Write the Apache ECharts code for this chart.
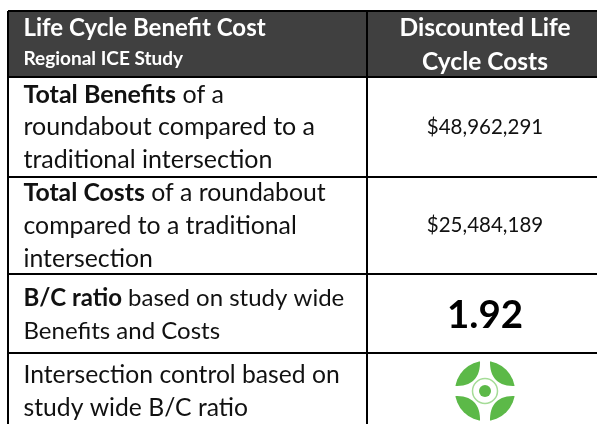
<!DOCTYPE html>
<html>
<head>
<meta charset="utf-8">
<title>Life Cycle Benefit Cost</title>
<script src="https://cdn.jsdelivr.net/npm/echarts@6/dist/echarts.min.js"></script>
<style>
  html, body { margin: 0; padding: 0; background: #fff; }
  #main { width: 597px; height: 424px; }
</style>
</head>
<body>
<div id="main"></div>
<script>
// table content
const headerLeft = ['Life Cycle Benefit Cost', 'Regional ICE Study'];
const headerRight = ['Discounted Life', 'Cycle Costs'];
const rowLabels = [
  ['{b|Total Benefits} of a', 'roundabout compared to a', 'traditional intersection'],
  ['{b|Total Costs} of a roundabout', 'compared to a traditional', 'intersection'],
  ['{b|B/C ratio} based on study wide', 'Benefits and Costs'],
  ['Intersection control based on', 'study wide B/C ratio']
];
const rowValues = ['$48,962,291', '$25,484,189', '1.92', null];

// layout
const fontName = 'Lato';
const tableLeft = 8, divider = 367, tableRight = 597, tableTop = 11, tableBottom = 424;
const rowLines = [77, 177, 274, 353];
const firstLineY = [94.5, 193.5, 298.5, 375.5];
const rowFontSize = [25, 24.8, 24, 24.7];
const lineHeight = 32.6;
const textX = 23.5, midRight = 485;

let chart = echarts.init(document.getElementById('main'), null, {renderer: 'canvas'});
let els = [];

function line(x1, y1, x2, y2) {
  els.push({type: 'line', shape: {x1, y1, x2, y2}, style: {stroke: '#000', lineWidth: 2}, z: 5});
}
function label(text, x, y, size, opts) {
  els.push({
    type: 'text', z: 10,
    style: Object.assign({
      text, x, y, fontFamily: fontName, fontSize: size, fill: '#111',
      verticalAlign: 'middle', align: 'left',
      rich: {b: {fontFamily: fontName, fontSize: size, fontWeight: 'bold', fill: '#111'}}
    }, opts)
  });
}

// header
els.push({type: 'rect', shape: {x: tableLeft, y: tableTop, width: tableRight - tableLeft, height: rowLines[0] - tableTop}, style: {fill: '#404040'}});
label(headerLeft[0], textX, 28.5, 24, {fontWeight: 'bold', fill: '#fff'});
label(headerLeft[1], textX, 59, 19, {fontWeight: 'bold', fill: '#fff'});
label(headerRight[0], midRight, 28.5, 24.5, {fontWeight: 'bold', fill: '#fff', align: 'center'});
label(headerRight[1], midRight, 62, 24.5, {fontWeight: 'bold', fill: '#fff', align: 'center'});

// rows
rowLabels.forEach((lines, i) => {
  let y0 = rowLines[i];
  let y1 = i + 1 < rowLines.length ? rowLines[i + 1] : tableBottom;
  lines.forEach((t, j) => label(t, textX, firstLineY[i] + j * lineHeight, rowFontSize[i]));
  if (rowValues[i]) {
    let big = rowValues[i] === '1.92';
    label(rowValues[i], midRight, (y0 + y1) / 2 + (big ? 2 : 0), big ? 38.5 : 20.5, {
      align: 'center', fontWeight: big ? 'bold' : 'normal', fill: big ? '#000' : '#111'
    });
  }
});

// grid lines
line(tableLeft, tableTop, tableRight, tableTop);
line(tableLeft, tableTop, tableLeft, tableBottom);
line(divider, tableTop, divider, tableBottom);
rowLines.forEach(y => line(tableLeft, y, tableRight, y));

// roundabout icon
const cx = 485, cy = 391, green = '#5cb948';
function starPoints() {
  // white cross with curved sides, one quarter at a time
  let pts = [];
  const corners = [[5, -31, 31, -5, 4, -4], [31, 5, 5, 31, 4, 4], [-5, 31, -31, 5, -4, 4], [-31, -5, -5, -31, -4, -4]];
  corners.forEach(c => {
    for (let k = 0; k <= 16; k++) {
      let t = k / 16, u = 1 - t;
      pts.push([
        cx + u * u * c[0] + 2 * u * t * c[4] + t * t * c[2],
        cy + u * u * c[1] + 2 * u * t * c[5] + t * t * c[3]
      ]);
    }
  });
  return pts;
}
els.push({type: 'circle', shape: {cx, cy, r: 30}, style: {fill: green}, z: 6});
els.push({type: 'polygon', shape: {points: starPoints()}, style: {fill: '#fff'}, z: 7});
els.push({type: 'circle', shape: {cx, cy, r: 12.5}, style: {fill: 'none', stroke: '#a5dc97', lineWidth: 1.5}, z: 8});
els.push({type: 'circle', shape: {cx, cy, r: 6}, style: {fill: green}, z: 8});

chart.setOption({
  animation: false,
  backgroundColor: '#fff',
  graphic: {elements: els}
});
</script>
</body>
</html>
